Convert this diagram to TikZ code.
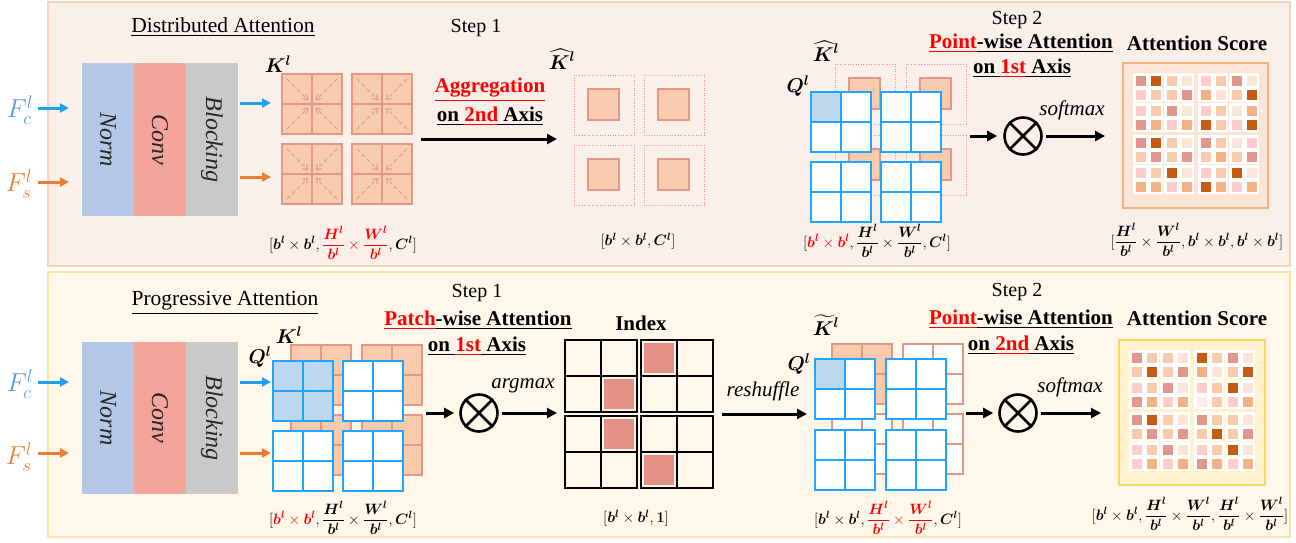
\RequirePackage{fix-cm}
\documentclass[tikz,border=0pt]{standalone}
\usepackage{amsmath,bm}
\usepackage{fontspec}
\setmainfont{Liberation Serif}
\usetikzlibrary{arrows.meta}
\definecolor{topbg}{HTML}{FBEFE9}
\definecolor{topbd}{HTML}{F6D3BF}
\definecolor{botbg}{HTML}{FFF8EA}
\definecolor{botbd}{HTML}{FAE3A6}
\definecolor{normc}{HTML}{B4C7E7}
\definecolor{convc}{HTML}{F4A49A}
\definecolor{blockc}{HTML}{C9C9C9}
\definecolor{fctext}{HTML}{5B9BD5}
\definecolor{arrblue}{HTML}{1E9FF2}
\definecolor{arrorange}{HTML}{ED7D31}
\definecolor{kfill}{HTML}{F8CBAD}
\definecolor{kcol}{HTML}{E3968C}
\definecolor{qcol}{HTML}{1EA5FF}
\definecolor{qhl}{HTML}{BDD7EE}
\definecolor{idxred}{HTML}{E39186}
\definecolor{sR}{HTML}{E3968E}
\definecolor{sB}{HTML}{C55A11}
\definecolor{sP}{HTML}{F8CBAD}
\definecolor{sL}{HTML}{FBE5D6}
\definecolor{sK}{HTML}{FFCCCC}
\definecolor{sO}{HTML}{F4B183}
\definecolor{sW}{HTML}{FDEEE8}
\definecolor{scoretopbg}{HTML}{FBE5D6}
\definecolor{scoretopbd}{HTML}{F4B183}
\definecolor{scorebotbg}{HTML}{FFF2CC}
\definecolor{scorebotbd}{HTML}{FFD966}
\newcommand\fsS{\fontsize{20}{24}\selectfont}
\newcommand\fsT{\fontsize{21.5}{25}\selectfont}
\newcommand\fsB{\fontsize{21}{25}\selectfont}
\newcommand\fsI{\fontsize{21}{25}\selectfont}
\newcommand\fsN{\fontsize{24}{28}\selectfont}
\newcommand\fsM{\fontsize{20}{24}\selectfont}
\newcommand\fsF{\fontsize{26}{30}\selectfont}
\newcommand\fsD{\fontsize{15}{18}\selectfont}
\newcommand\bbl{\bm{b}^{\bm{l}}}
\newcommand\fH{\dfrac{\bm{H}^{\bm{l}}}{\bbl}}
\newcommand\fW{\dfrac{\bm{W}^{\bm{l}}}{\bbl}}
\newcommand\bCl{\bm{C}^{\bm{l}}}
\newcommand\gridblk[7][qline]{%
  \fill[#4] (#2,#3) rectangle ++(30,30);
  \fill[#5] ({#2+30},#3) rectangle ++(30,30);
  \fill[#6] (#2,{#3+30}) rectangle ++(30,30);
  \fill[#7] ({#2+30},{#3+30}) rectangle ++(30,30);
  \draw[#1] (#2,#3) rectangle ++(60,60) ({#2+30},#3) -- ++(0,60) (#2,{#3+30}) -- ++(60,0);
}
\newcommand\karrows[2]{%
  \draw[karr] ({#1+5},{#2+5}) -- ({#1+26},{#2+26});
  \draw[karr] ({#1+55},{#2+5}) -- ({#1+34},{#2+26});
  \draw[karr] ({#1+5},{#2+55}) -- ({#1+26},{#2+34});
  \draw[karr] ({#1+55},{#2+55}) -- ({#1+34},{#2+34});
}
\newcommand\khatbox[2]{%
  \draw[dotbox] (#1,#2) rectangle ++(60,60);
  \draw[kline, fill=kfill] ({#1+14},{#2+14}) rectangle ++(31,31);
}
\newcommand\scoregrid[3]{%
  \foreach \qi in {0,1}{\foreach \qj in {0,1}{\foreach \si in {0,1}{\foreach \sj in {0,1}{%
    \fill[white] ({#1+\qi*65+\si*31},{#2+\qj*62+\sj*30}) rectangle ++(30,29);}}}}
  \foreach \cc [count=\nn from 0] in {#3}{%
    \pgfmathtruncatemacro\rr{div(\nn,8)}%
    \pgfmathtruncatemacro\kk{mod(\nn,8)}%
    \pgfmathsetmacro\xx{#1+div(\kk,4)*65+div(mod(\kk,4),2)*31+mod(\kk,2)*15+2.5}%
    \pgfmathsetmacro\yy{#2+div(\rr,4)*62+div(mod(\rr,4),2)*30+mod(\rr,2)*14+2.5}%
    \fill[\cc] (\xx,\yy) rectangle ++(10.5,10.5);}%
}
\newcommand\idxblk[2]{%
  \draw[line width=1.6pt] (#1,#2) rectangle ++(72,72) ({#1+36},#2) -- ++(0,72) (#1,{#2+36}) -- ++(72,0);
}
\begin{document}
\begin{tikzpicture}[x=1pt,y=-1pt,
  plain/.style={font=\fsS, inner sep=0pt},
  title/.style={font=\fsT, inner sep=0pt},
  boldt/.style={font=\fsB\bfseries, inner sep=0pt},
  itt/.style={font=\fsI\itshape, inner sep=0pt},
  blktxt/.style={font=\fsN\itshape, inner sep=0pt, rotate=-90, text=black!85},
  mth/.style={font=\fsM, inner sep=0pt},
  fin/.style={font=\fsF, inner sep=0pt},
  dim/.style={font=\fsD, inner sep=0pt},
  kline/.style={draw=kcol, line width=2pt},
  qline/.style={draw=qcol, line width=2.8pt},
  karr/.style={draw=kcol, dash pattern=on 4pt off 3pt, line width=1pt, -{Straight Barb[length=4pt,width=6pt]}},
  dotbox/.style={draw=kcol, line width=1pt, dash pattern=on 1pt off 1.6pt},
  bigarrow/.style={line width=3pt, -{Triangle[length=10pt,width=10pt]}},
  inarrow/.style={line width=3pt, -{Triangle[length=9pt,width=9pt]}},
  otimes/.style={circle, draw, line width=2.6pt, minimum size=37pt, inner sep=0pt}
]
\useasboundingbox (0,0) rectangle (1296,542);
% panels
\draw[fill=topbg, draw=topbd, line width=1.5pt] (48,2) rectangle (1290,266);
\draw[fill=botbg, draw=botbd, line width=1.5pt] (48,272) rectangle (1290,537);

% ================= TOP PANEL =================
\node[title] (dist) at (223,27) {\underline{Distributed Attention}};
\node[fin, text=fctext] (fc1) at (20,110) {$F_c^l$};
\node[fin, text=arrorange] (fs1) at (19,184) {$F_s^l$};
\coordinate (fc1s) at (38,108); \coordinate (fc1e) at (69,108);
\coordinate (fs1s) at (38,182); \coordinate (fs1e) at (69,182);
\draw[inarrow, arrblue] (fc1s) -- (fc1e);
\draw[inarrow, arrorange] (fs1s) -- (fs1e);
\fill[normc] (82,63) rectangle (134,216);
\fill[convc] (134,63) rectangle (186,216);
\fill[blockc] (186,63) rectangle (238,216);
\node[blktxt] (norm1) at (108,139.5) {Norm};
\node[blktxt] (conv1) at (160,139.5) {Conv};
\node[blktxt] (blk1) at (212,139.5) {Blocking};
\coordinate (o1s) at (240,103); \coordinate (o1e) at (271,103);
\coordinate (o2s) at (240,177); \coordinate (o2e) at (271,177);
\draw[inarrow, arrblue] (o1s) -- (o1e);
\draw[inarrow, arrorange] (o2s) -- (o2e);
\node[mth] (k1lab) at (278,64) {$\bm{K}^{\bm{l}}$};
\gridblk[kline]{282}{74}{kfill}{kfill}{kfill}{kfill}
\gridblk[kline]{352}{74}{kfill}{kfill}{kfill}{kfill}
\gridblk[kline]{282}{144}{kfill}{kfill}{kfill}{kfill}
\gridblk[kline]{352}{144}{kfill}{kfill}{kfill}{kfill}
\karrows{282}{74}\karrows{352}{74}\karrows{282}{144}\karrows{352}{144}
\node[dim] (d1) at (343,243) {$[\bbl\times\bbl,\textcolor{red}{\fH\times\fW},\bCl]$};

% step 1 top
\node[plain] (s1a) at (476,28) {Step 1};
\node[boldt] (agg) at (490,90) {\textcolor{red}{\underline{Aggregation}}};
\node[boldt] (ax1) at (490,116) {\underline{on }\textcolor{red}{\underline{2nd}}\underline{ Axis}};
\coordinate (ag1s) at (421,139); \coordinate (ag1e) at (557,139);
\draw[bigarrow] (ag1s) -- (ag1e);
\node[mth] (khlab) at (562,59) {$\widehat{\bm{K}}^{\bm{l}}$};
\khatbox{574}{75}\khatbox{644}{75}\khatbox{574}{145}\khatbox{644}{145}
\node[dim] (d2) at (638,241) {$[\bbl\times\bbl,\bCl]$};

% step 2 top
\node[plain] (s2a) at (1017,20) {Step 2};
\node[boldt] (pw1) at (1021,43) {\textcolor{red}{\underline{Point}}\underline{-wise Attention}};
\node[boldt] (ax2) at (1022,68) {\underline{on }\textcolor{red}{\underline{1st}}\underline{ Axis}};
\node[mth] (kh2lab) at (826,51) {$\widehat{\bm{K}}^{\bm{l}}$};
\khatbox{835}{64}\khatbox{906}{64}\khatbox{835}{135}\khatbox{906}{135}
\node[mth] (q1lab) at (798,86) {$\bm{Q}^{\bm{l}}$};
\gridblk{811}{92}{qhl}{white}{white}{white}
\gridblk{881}{92}{white}{white}{white}{white}
\gridblk{811}{162}{white}{white}{white}{white}
\gridblk{881}{162}{white}{white}{white}{white}
\node[dim] (d3) at (877,241) {$[\textcolor{red}{\bbl\times\bbl},\fH\times\fW,\bCl]$};
\node[otimes] (ot1) at (1023,136) {};
\draw[line width=2.6pt] (ot1.north west) -- (ot1.south east) (ot1.north east) -- (ot1.south west);
\coordinate (m1s) at (970,136); \coordinate (m1e) at (1105,136);
\draw[bigarrow, shorten >=6pt] (m1s) -- (ot1.west);
\draw[bigarrow, shorten <=3pt] (ot1.east) -- (m1e);
\node[itt] (sm1) at (1072,110) {softmax};
\node[boldt] (as1) at (1197,43) {Attention Score};
\draw[fill=scoretopbg, draw=scoretopbd, line width=1.5pt] (1123,63) rectangle (1268,208);
\scoregrid{1133}{73}{sR,sB,sP,sL,sK,sP,sR,sL,
 sK,sP,sP,sR,sO,sL,sP,sB,
 sK,sP,sR,sL,sK,sP,sL,sO,
 sR,sO,sK,sO,sB,sP,sK,sB,
 sR,sB,sP,sL,sR,sP,sL,sK,
 sP,sR,sP,sR,sP,sO,sP,sR,
 sK,sP,sB,sL,sK,sP,sB,sL,
 sO,sO,sK,sO,sB,sO,sK,sO}
\node[dim] (d4) at (1197,240) {$[\fH\times\fW,\bbl\times\bbl,\bbl\times\bbl]$};

% ================= BOTTOM PANEL =================
\node[title] (prog) at (225,303) {\underline{Progressive Attention}};
\node[fin, text=fctext] (fc2) at (20,384) {$F_c^l$};
\node[fin, text=arrorange] (fs2) at (19,457) {$F_s^l$};
\coordinate (fc2s) at (38,382); \coordinate (fc2e) at (69,382);
\coordinate (fs2s) at (38,453); \coordinate (fs2e) at (69,453);
\draw[inarrow, arrblue] (fc2s) -- (fc2e);
\draw[inarrow, arrorange] (fs2s) -- (fs2e);
\fill[normc] (82,342) rectangle (134,494);
\fill[convc] (134,342) rectangle (186,494);
\fill[blockc] (186,342) rectangle (238,494);
\node[blktxt] (norm2) at (108,418) {Norm};
\node[blktxt] (conv2) at (160,418) {Conv};
\node[blktxt] (blk2) at (212,418) {Blocking};
\coordinate (o3s) at (240,382); \coordinate (o3e) at (271,382);
\coordinate (o4s) at (240,453); \coordinate (o4e) at (271,453);
\draw[inarrow, arrblue] (o3s) -- (o3e);
\draw[inarrow, arrorange] (o4s) -- (o4e);
\node[mth] (k2lab) at (289,335) {$\bm{K}^{\bm{l}}$};
\node[mth] (q2lab) at (260,357) {$\bm{Q}^{\bm{l}}$};
\gridblk[kline]{291}{345}{kfill}{kfill}{kfill}{kfill}
\gridblk[kline]{362}{345}{kfill}{kfill}{kfill}{kfill}
\gridblk[kline]{291}{415}{kfill}{kfill}{kfill}{kfill}
\gridblk[kline]{362}{415}{kfill}{kfill}{kfill}{kfill}
\gridblk{273}{361}{qhl}{qhl}{qhl}{qhl}
\gridblk{343}{361}{white}{white}{white}{white}
\gridblk{273}{431}{white}{white}{white}{white}
\gridblk{343}{431}{white}{white}{white}{white}
\node[dim] (d5) at (343,518) {$[\textcolor{red}{\bbl\times\bbl},\fH\times\fW,\bCl]$};

% step 1 bottom
\node[plain] (s1b) at (477,293) {Step 1};
\node[boldt] (pw2) at (478,320) {\textcolor{red}{\underline{Patch}}\underline{-wise Attention}};
\node[boldt] (ax3) at (477,346) {\underline{on }\textcolor{red}{\underline{1st}}\underline{ Axis}};
\node[otimes] (ot2) at (479,413) {};
\draw[line width=2.6pt] (ot2.north west) -- (ot2.south east) (ot2.north east) -- (ot2.south west);
\coordinate (p1s) at (426,413); \coordinate (p1e) at (557,413);
\draw[bigarrow, shorten >=5pt] (p1s) -- (ot2.west);
\draw[bigarrow, shorten <=3pt] (ot2.east) -- (p1e);
\node[itt] (am) at (523,386) {argmax};
\node[boldt] (idx) at (641,323) {Index};
\fill[idxred] (644,343) rectangle ++(30,30);
\fill[idxred] (604,379) rectangle ++(30,30);
\fill[idxred] (604,419) rectangle ++(30,30);
\fill[idxred] (644,455) rectangle ++(30,30);
\idxblk{565}{340}\idxblk{641}{340}\idxblk{565}{416}\idxblk{641}{416}
\node[dim] (d6) at (636,518) {$[\bbl\times\bbl,\bm{1}]$};
\coordinate (r1s) at (722,414); \coordinate (r1e) at (807,414);
\draw[bigarrow] (r1s) -- (r1e);
\node[itt] (rs) at (763,391) {reshuffle};

% step 2 bottom
\node[plain] (s2b) at (1017,292) {Step 2};
\node[boldt] (pw3) at (1021,319) {\textcolor{red}{\underline{Point}}\underline{-wise Attention}};
\node[boldt] (ax4) at (1021,345) {\underline{on }\textcolor{red}{\underline{2nd}}\underline{ Axis}};
\node[mth] (ktlab) at (826,325) {$\widetilde{\bm{K}}^{\bm{l}}$};
\node[mth] (q3lab) at (799,364) {$\bm{Q}^{\bm{l}}$};
\gridblk[kline]{832}{344}{kfill}{kfill}{kfill}{kfill}
\gridblk[kline]{903}{344}{white}{white}{white}{white}
\gridblk[kline]{832}{414}{white}{white}{white}{white}
\gridblk[kline]{903}{414}{white}{white}{white}{white}
\gridblk{815}{359}{qhl}{white}{white}{white}
\gridblk{886}{359}{white}{white}{white}{white}
\gridblk{815}{430}{white}{white}{white}{white}
\gridblk{886}{430}{white}{white}{white}{white}
\node[dim] (d7) at (888,518) {$[\bbl\times\bbl,\textcolor{red}{\fH\times\fW},\bCl]$};
\node[otimes] (ot3) at (1018,413) {};
\draw[line width=2.6pt] (ot3.north west) -- (ot3.south east) (ot3.north east) -- (ot3.south west);
\coordinate (m2s) at (966,413); \coordinate (m2e) at (1101,413);
\draw[bigarrow, shorten >=5pt] (m2s) -- (ot3.west);
\draw[bigarrow, shorten <=3pt] (ot3.east) -- (m2e);
\node[itt] (sm2) at (1070,387) {softmax};
\node[boldt] (as2) at (1197,318) {Attention Score};
\draw[fill=scorebotbg, draw=scorebotbd, line width=2pt] (1119,340) rectangle (1265,485);
\scoregrid{1129}{350}{sR,sP,sP,sL,sB,sP,sR,sL,
 sP,sB,sP,sR,sO,sL,sP,sB,
 sK,sP,sR,sL,sK,sP,sB,sL,
 sR,sO,sK,sO,sW,sP,sK,sO,
 sR,sB,sP,sL,sR,sP,sP,sL,
 sP,sR,sP,sR,sP,sB,sP,sR,
 sK,sP,sR,sL,sK,sP,sB,sL,
 sK,sO,sK,sO,sR,sO,sK,sO}
\node[dim] (d8) at (1190,514) {$[\bbl\times\bbl,\fH\times\fW,\fH\times\fW]$};
\end{tikzpicture}
\end{document}
